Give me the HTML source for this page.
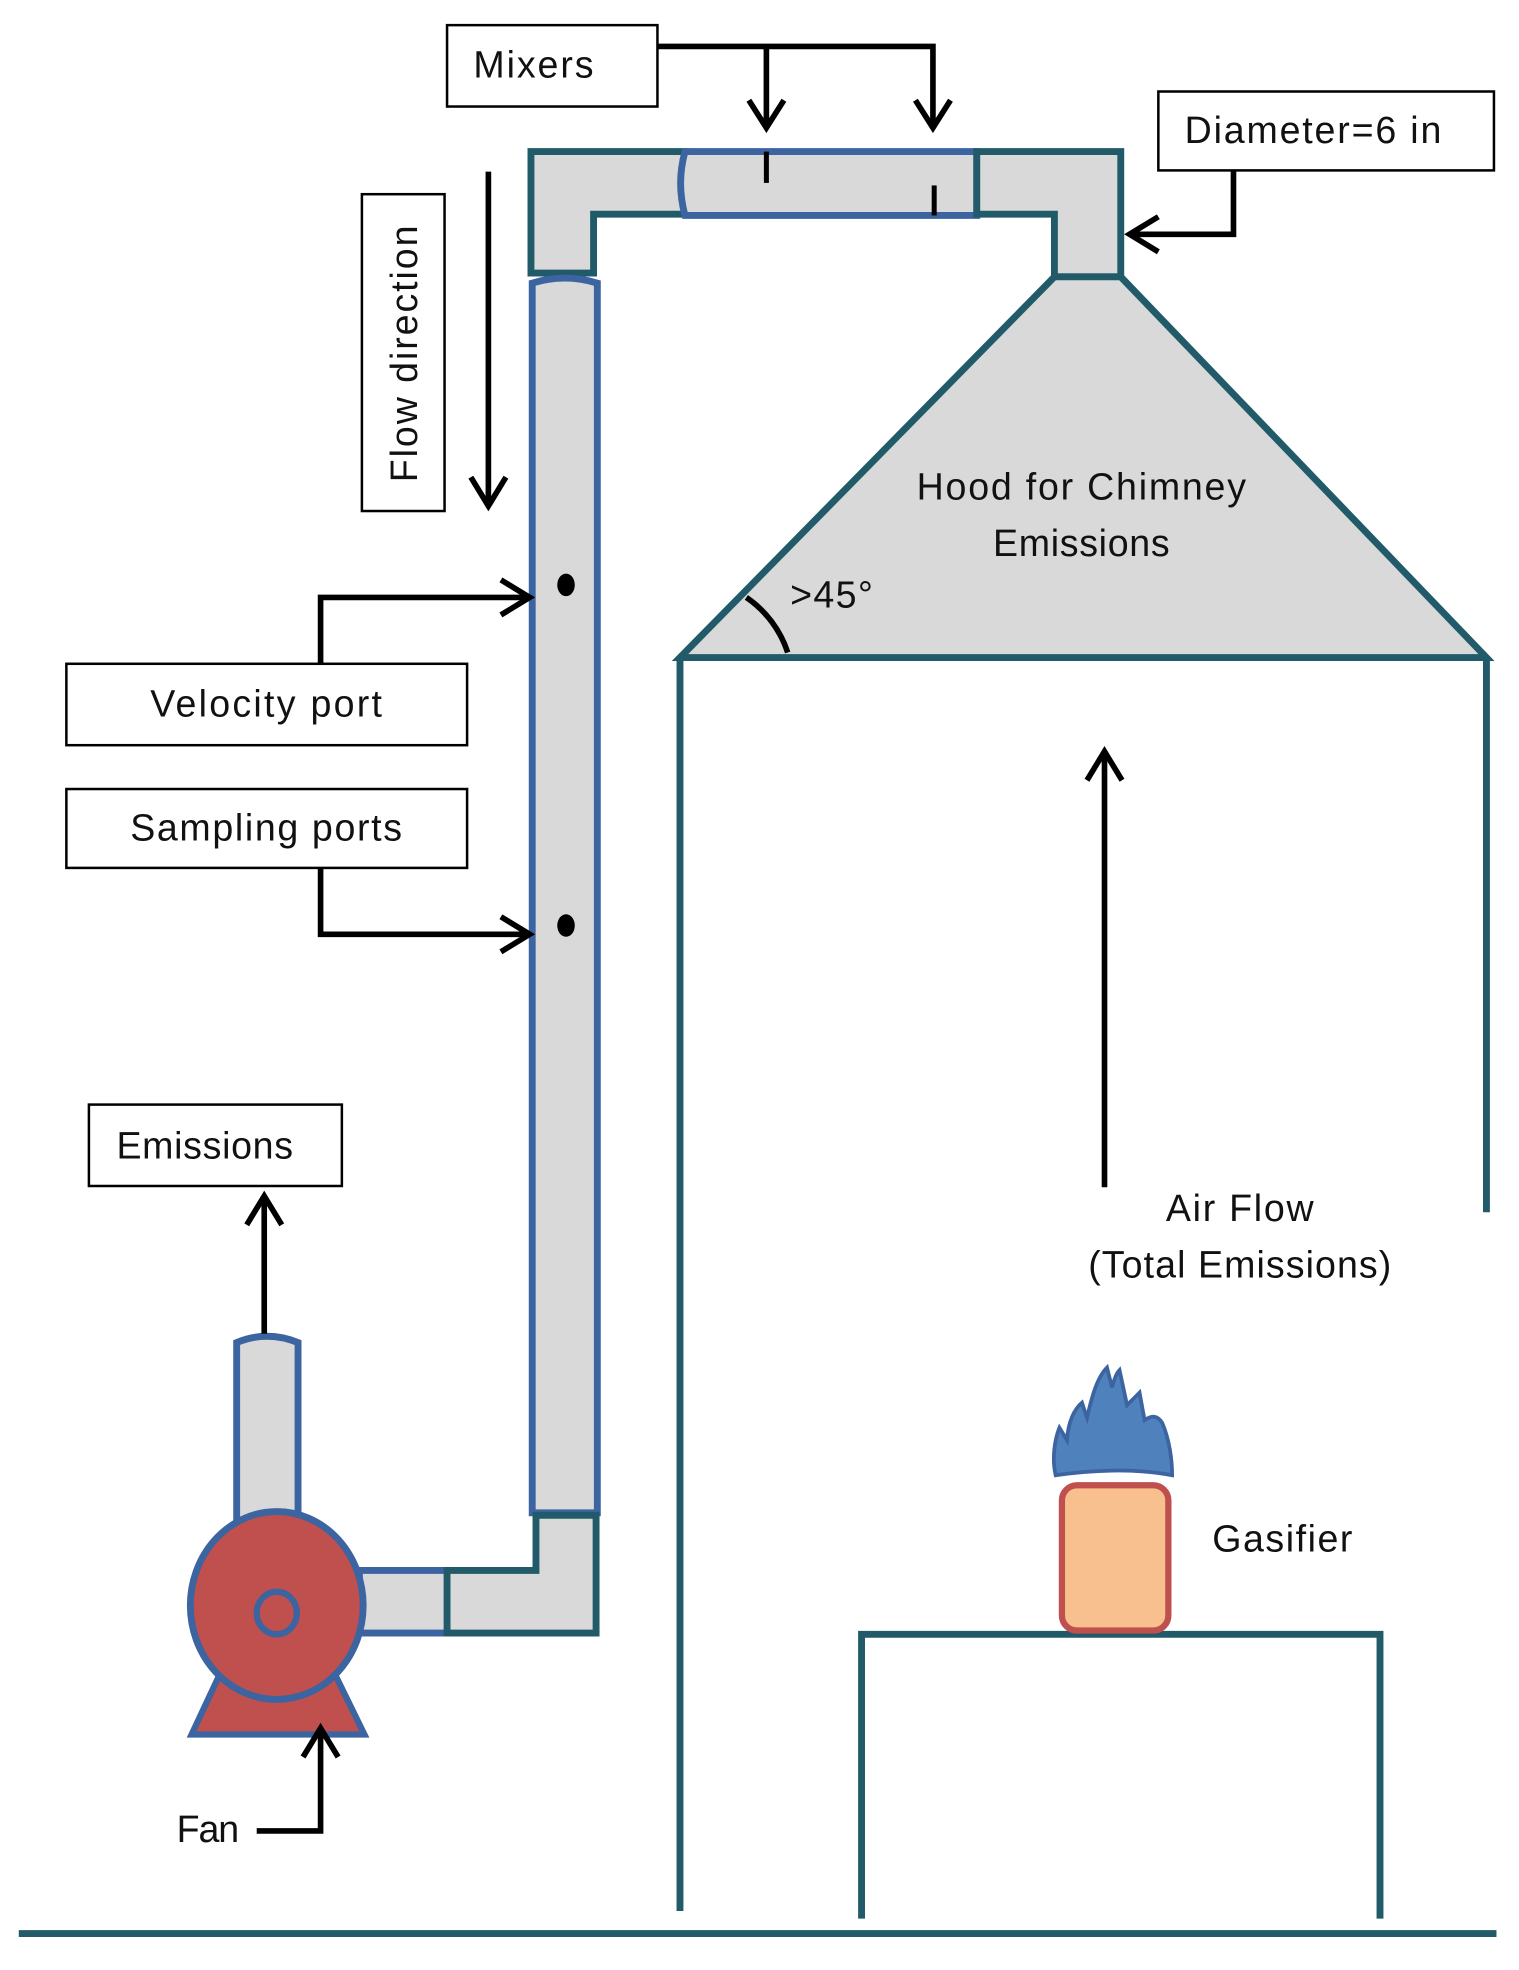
<!DOCTYPE html>
<html><head><meta charset="utf-8"><style>
html,body{margin:0;padding:0;background:#fff;}
svg{display:block;}
text{font-family:"Liberation Sans",sans-serif;fill:#111;}
</style></head><body>
<svg width="1519" height="1970" viewBox="0 0 1213 1573" xmlns="http://www.w3.org/2000/svg">
<g fill="#d9d9d9" stroke-width="5.5" stroke-linejoin="miter">
<path d="M424,218 L424,121 L547,121 L547,171 L474,171 L474,218 Z" stroke="#215a69"/>
<path d="M547,121 L780,121 L780,172 L547,172 Q540,146 547,121 Z" stroke="#3b64a0"/>
<path d="M780,121 L895,121 L895,221 L842,221 L842,171 L780,171 Z" stroke="#215a69"/>
<path d="M842,221 L895,221 L1187,525 L543,525 Z" stroke="#215a69"/>
<path d="M425,1208 L425,226 Q451,218 477,226 L477,1208 Z" stroke="#3b64a0"/>
<rect x="287" y="1254" width="72" height="50" stroke="#3b64a0"/>
<path d="M357,1254 L428,1254 L428,1210 L476,1210 L476,1304 L357,1304 Z" stroke="#215a69"/>
<path d="M189,1216 L189,1072 Q213,1062 238,1072 L238,1216 Z" stroke="#3b64a0"/>
</g>
<g stroke="#000" stroke-width="4">
<line x1="612" y1="121" x2="612" y2="146"/>
<line x1="746" y1="148" x2="746" y2="172"/>
</g>
<ellipse cx="452" cy="467" rx="7" ry="9" fill="#000"/>
<ellipse cx="452" cy="739" rx="7" ry="9" fill="#000"/>
<path d="M175,1338 L268,1338 L291,1385 L153,1385 Z" fill="#c0504d" stroke="#3b64a0" stroke-width="5"/>
<ellipse cx="221" cy="1282" rx="69" ry="75" fill="#c0504d" stroke="#3b64a0" stroke-width="5.5"/>
<ellipse cx="221" cy="1288" rx="16" ry="17" fill="#c0504d" stroke="#3b64a0" stroke-width="5"/>
<g stroke="#215a69" stroke-width="5.5" fill="none">
<line x1="543" y1="525" x2="543" y2="1526"/>
<line x1="1187" y1="525" x2="1187" y2="968"/>
<path d="M688,1532 L688,1305 L1102,1305 L1102,1532"/>
<line x1="15" y1="1544" x2="1195" y2="1544"/>
</g>
<rect x="848" y="1186" width="85" height="116" rx="12" fill="#f8c08e" stroke="#c0504d" stroke-width="5"/>
<path d="M843,1178 C840,1165 842,1150 846,1140 L852,1150 C853,1135 858,1125 864,1120 L868,1132 C872,1115 876,1100 884,1092 L888,1108 C890,1100 892,1096 894,1094 L900,1122 C904,1118 908,1114 910,1112 L914,1134 C920,1130 924,1130 928,1136 C934,1150 936,1166 936,1178 C905,1172 870,1174 843,1178 Z" fill="#4f81bd" stroke="#3b64a0" stroke-width="3"/>
<g fill="#fff" stroke="#000" stroke-width="2">
<rect x="357" y="20" width="168" height="65"/>
<rect x="925" y="73" width="268" height="63"/>
<rect x="289" y="155" width="66" height="253"/>
<rect x="53" y="530" width="320" height="65"/>
<rect x="53" y="630" width="320" height="63"/>
<rect x="71" y="882" width="202" height="65"/>
</g>
<g stroke="#000" stroke-width="4.5" fill="none" stroke-linejoin="miter">
<path d="M525,37 L745,37 L745,102"/>
<path d="M612,37 L612,102"/>
<path d="M598,80 L612,102 L626,80"/><path d="M731,80 L745,102 L759,80"/>
<path d="M985,136 L985,187 L902,187"/><path d="M925,173 L902,187 L925,201"/>
<path d="M390,137 L390,404"/><path d="M376,381 L390,404 L404,381"/>
<path d="M256,530 L256,477 L423,477"/><path d="M400,463 L423,477 L400,491"/>
<path d="M256,693 L256,746 L423,746"/><path d="M400,732 L423,746 L400,760"/>
<path d="M882,948 L882,600"/><path d="M868,623 L882,600 L896,623"/>
<path d="M211,1065 L211,955"/><path d="M197,978 L211,955 L225,978"/>
<path d="M205,1462 L256,1462 L256,1380"/><path d="M242,1403 L256,1380 L270,1403"/>
<path d="M596,477 A85,85 0 0 1 629,521"/>
</g>
<g font-size="30">
<text x="378" y="62" textLength="96">Mixers</text>
<text x="946" y="114" textLength="205">Diameter=6 in</text>
<text x="0" y="0" transform="translate(333,385) rotate(-90)" textLength="205">Flow direction</text>
<text x="120" y="572" textLength="185">Velocity port</text>
<text x="104" y="671" textLength="217">Sampling ports</text>
<text x="93" y="925" textLength="141">Emissions</text>
<text x="732" y="399" textLength="263">Hood for Chimney</text>
<text x="793" y="444" textLength="141">Emissions</text>
<text x="631" y="485" textLength="66">&gt;45°</text>
<text x="931" y="975" textLength="118">Air Flow</text>
<text x="869" y="1020" textLength="242">(Total Emissions)</text>
<text x="968" y="1239" textLength="112">Gasifier</text>
<text x="141" y="1471" textLength="50">Fan</text>
</g>
</svg>
</body></html>
